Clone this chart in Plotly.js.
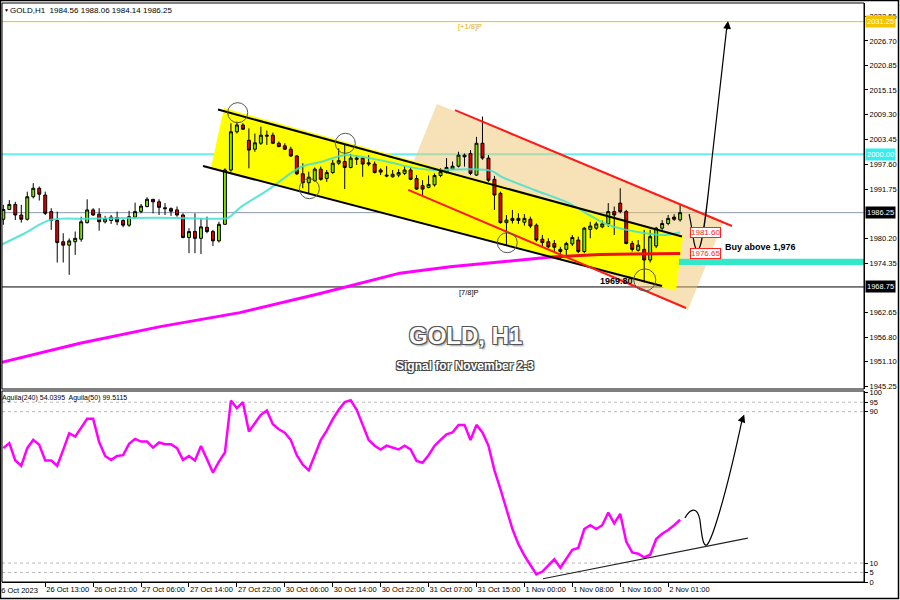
<!DOCTYPE html>
<html><head><meta charset="utf-8">
<script src="https://cdn.plot.ly/plotly-3.0.1.min.js"></script>
<style>html,body{margin:0;padding:0;background:#fff;}#chart{width:900px;height:600px;}</style>
</head><body><div id="chart"></div>
<script>
// ---------------- DATA ----------------
const headerText = "GOLD,H1  1984.56 1988.06 1984.14 1986.25";
const indicatorHeader = "Aguila(240) 54.0395  Aguila(50) 99.5115";
const firstDateLabel = "26 Oct 2023";
const timeLabels = ["26 Oct 13:00","26 Oct 21:00","27 Oct 06:00","27 Oct 14:00","27 Oct 22:00","30 Oct 06:00","30 Oct 14:00","30 Oct 22:00","31 Oct 07:00","31 Oct 15:00","1 Nov 00:00","1 Nov 08:00","1 Nov 16:00","2 Nov 01:00"];
const priceTicks = [2032.55,2026.70,2020.85,2015.15,2009.30,2003.45,1997.60,1991.75,1980.20,1974.35,1962.65,1956.80,1951.10,1945.25];
const indicatorTicks = [0,5,10,90,95,100];
const indicatorLevels = [5,10,90,95];

const opens = [1984.7,1987.0,1988.2,1985.7,1984.7,1990.0,1992.0,1990.4,1986.5,1984.4,
1979.4,1978.6,1979.4,1980.0,1983.9,1986.9,1985.9,1984.1,1984.4,1985.1,
1984.4,1983.3,1985.2,1986.5,1987.7,1989.4,1988.8,1987.4,1987.2,1986.9,
1985.7,1980.4,1981.8,1980.2,1982.8,1981.8,1979.6,1983.5,1996.3,2005.3,
2006.9,2003.3,2001.2,2002.6,2004.5,2004.5,2002.6,2002.0,2001.2,1999.6,
1995.4,1993.3,1993.8,1996.5,1994.3,1995.7,1997.9,1998.3,1996.9,1998.8,
1999.1,1998.0,1997.7,1996.3,1995.1,1994.7,1995.1,1995.5,1996.3,1994.3,
1992.6,1992.2,1992.8,1995.0,1995.7,1996.5,1997.2,1999.8,2000.2,1995.1,
2002.6,1999.1,1994.1,1990.8,1983.9,1984.4,1984.9,1984.0,1984.7,1983.3,
1980.0,1979.4,1979.0,1977.6,1977.6,1978.9,1979.8,1977.1,1982.3,1982.6,
1982.9,1983.6,1986.5,1988.5,1986.5,1979.0,1977.4,1977.6,1975.1,1978.4,
1982.6,1983.7,1985.2,1984.56];
const highs = [1988.1,1989.2,1988.8,1988.1,1991.2,1993.2,1992.4,1991.2,1987.3,1986.5,
1981.4,1980.2,1981.8,1985.3,1989.4,1987.3,1987.3,1985.5,1985.7,1986.5,
1984.7,1986.7,1988.6,1988.3,1989.9,1989.4,1989.4,1988.5,1987.5,1987.7,
1986.1,1982.6,1986.1,1984.9,1985.3,1982.2,1984.1,1996.7,2007.3,2007.7,
2007.3,2006.1,2004.9,2006.5,2005.6,2005.1,2003.0,2002.6,2001.8,1999.8,
1997.9,1995.9,1996.9,1997.1,1996.3,1998.7,2001.4,2002.2,2000.1,1999.8,
1999.4,1999.8,1998.3,1996.7,1997.2,1996.3,1996.5,1997.2,1996.9,1995.1,
1993.9,1995.0,1995.5,1996.7,1999.1,1998.3,2000.6,2000.2,2001.0,2004.1,
2008.9,1999.8,1994.9,1991.2,1985.7,1986.9,1986.1,1985.9,1985.3,1983.7,
1981.0,1980.2,1979.8,1978.2,1979.4,1981.0,1980.6,1982.9,1984.1,1984.1,
1984.4,1988.5,1987.7,1992.0,1986.9,1979.6,1979.8,1982.2,1982.2,1982.9,
1984.5,1985.7,1985.9,1988.06];
const lows = [1983.4,1986.9,1984.5,1983.9,1984.4,1989.6,1989.1,1985.7,1982.2,1974.5,
1974.5,1971.6,1976.3,1979.4,1983.7,1985.5,1982.0,1983.7,1983.6,1983.3,
1982.8,1982.9,1984.9,1986.1,1987.5,1986.1,1985.7,1985.7,1985.5,1985.3,
1980.2,1976.7,1976.7,1976.5,1981.4,1978.4,1979.2,1983.4,1995.9,2004.9,
2005.7,1996.7,2000.6,2002.2,2002.2,2002.4,2001.7,2001.0,1999.4,1995.1,
1992.0,1990.8,1993.5,1993.8,1993.5,1995.4,1997.5,1991.8,1996.7,1997.5,
1994.7,1997.2,1995.5,1995.1,1994.6,1994.5,1994.6,1995.1,1993.9,1991.6,
1990.0,1992.0,1992.4,1994.6,1995.5,1996.3,1996.9,1997.1,1995.1,1994.9,
1998.7,1993.5,1986.9,1983.7,1978.6,1983.7,1983.6,1983.2,1982.6,1979.4,
1978.2,1977.9,1977.1,1975.3,1975.9,1978.4,1976.7,1976.7,1980.2,1982.2,
1982.6,1982.9,1981.0,1986.1,1978.8,1977.1,1977.1,1969.8,1974.5,1977.9,
1982.2,1983.3,1984.3,1984.14];
const closes = [1987.0,1988.2,1985.7,1984.7,1990.0,1992.0,1990.6,1986.1,1984.4,1979.2,
1978.6,1979.6,1980.2,1984.1,1986.9,1985.7,1984.1,1984.8,1985.2,1984.1,
1983.3,1985.3,1986.5,1987.8,1989.4,1988.8,1987.5,1987.2,1986.6,1985.7,
1980.4,1981.8,1980.2,1982.9,1981.8,1979.6,1983.5,1996.3,2005.3,2006.9,
2005.9,2001.0,2002.7,2004.5,2004.3,2002.6,2001.8,2001.2,1999.6,1995.4,
1993.3,1994.6,1996.5,1994.1,1995.7,1997.9,1998.5,1996.9,1999.1,1999.1,
1997.7,1997.7,1995.7,1995.8,1994.9,1995.3,1995.7,1996.3,1994.1,1991.8,
1991.8,1992.9,1995.0,1995.9,1996.9,1997.2,1999.8,1999.4,1995.5,2002.6,
1999.1,1993.9,1990.4,1983.9,1984.5,1984.9,1984.4,1984.9,1983.1,1979.8,
1979.2,1978.2,1978.1,1977.1,1979.0,1980.4,1977.1,1982.6,1983.1,1983.6,
1983.6,1986.5,1985.7,1986.5,1979.0,1977.6,1978.6,1975.1,1980.6,1982.6,
1983.7,1984.9,1984.7,1986.25];

// fast moving average (turquoise), read at selected bars
const maFastBars   = [-0.5, 3.6, 7.8, 14, 21.7, 29.1, 35.8, 37.5, 39.6, 44.2, 49.7, 53.0, 56.9, 59.7, 64.3, 68.6, 72.0, 77.7, 81.5, 83.2, 88.7, 94.4, 97.8, 101.1, 105.5, 110.0, 113.0];
const maFastValues = [1978.6,1981.4,1984.5,1984.8,1985.0,1985.0,1984.8,1985.0,1987.5,1991.6,1997.0,1998.2,1999.8,1999.4,1998.2,1996.8,1996.3,1996.5,1996.1,1994.7,1991.6,1988.5,1985.7,1983.3,1981.8,1981.0,1981.6];
// slow moving average: magenta part, then red part
const maSlowBars   = [-0.5, 12.8, 26.2, 39.5, 52.9, 66.2, 74.6, 82.9, 89.6, 91.5];
const maSlowValues = [1950.9,1955.5,1959.4,1962.7,1967.2,1972.0,1973.5,1974.7,1975.5,1975.8];
const maRedBars    = [91.5, 99.6, 105.1, 113.0];
const maRedValues  = [1975.8,1976.4,1976.5,1976.65];

// indicator (Aguila 50) one value per bar
const aguila = [70.7,73.4,64.2,61.4,70.7,75.1,72.5,64.2,64.2,61.4,
69.8,78.6,76.8,81.3,86.2,86.2,73.9,66.6,64.5,66.6,
67.0,73.0,75.6,74.2,74.2,71.0,73.7,72.8,72.8,70.7,
64.5,66.6,64.2,71.9,64.5,57.8,63.6,68.4,95.8,91.8,
95.0,79.5,83.9,88.3,90.6,83.4,80.7,78.9,75,67,
62,59,67,75,80,86,91,95,96,91,
83,75,72,70,72,71,70,72,70,64,
63,67,72,75,78,79,83,83,75,83,
79,72,59,49,38,28,20,14,9,4,
5.5,9,12,7.5,12,17,18,28,30,28,
30,36.7,31,36,21.4,15.6,14.9,13.0,14.4,22.7,
25.5,27.5,30,32.9];

// horizontal levels
const levelTop = 2031.25, levelRound = 2000.00, levelLast = 1986.25, levelLow = 1968.75;
const buyZone = [1973.9, 1975.4];
const maFastLabel = 1981.60, maSlowLabel = 1976.65, swingLow = 1969.80;

// ---------------- CHART ----------------
const W = 900, H = 600;
const px = v => v / W, py = v => 1 - v / H;
const bars = opens.map((_, i) => i);
const tickvals = timeLabels.map((_, k) => 7 + 8 * k);
const FONT = 'Liberation Sans, Arial, sans-serif';

const traces = [
  {type:'scatter', mode:'lines', x:maSlowBars, y:maSlowValues, line:{color:'#ff00ff', width:3}, hoverinfo:'skip'},
  {type:'scatter', mode:'lines', x:maRedBars, y:maRedValues, line:{color:'#ee1111', width:3}, hoverinfo:'skip'},
  {type:'scatter', mode:'lines', x:maFastBars, y:maFastValues, line:{color:'rgba(64,224,208,0.85)', width:2, shape:'spline'}, hoverinfo:'skip'},
  {type:'candlestick', x:bars, open:opens, high:highs, low:lows, close:closes,
   increasing:{line:{color:'#000', width:1}, fillcolor:'#80e000'},
   decreasing:{line:{color:'#000', width:1}, fillcolor:'#e00000'},
   whiskerwidth:0, hoverinfo:'skip'},
  {type:'scatter', mode:'lines', x:bars, y:aguila, xaxis:'x', yaxis:'y2', line:{color:'#ff00ff', width:2.5}, hoverinfo:'skip'}
];

const shapes = [
  {type:'path', xref:'x', yref:'y', layer:'below', path:'M72.4,2011.85 L120.3,1984.29 L114.3,1963.32 L66.7,1992.06 Z', fillcolor:'rgba(238,198,110,0.5)', line:{width:0}},
  {type:'path', xref:'x', yref:'y', layer:'below', path:'M36.85,2010.9 L113.5,1980.75 L112.3,1967.8 L34.7,1997.0 Z', fillcolor:'#ffff00', line:{width:0}},
  {type:'line', xref:'paper', yref:'y', x0:px(2), x1:px(864), y0:levelTop, y1:levelTop, layer:'below', line:{color:'#f2c200', width:1}},
  {type:'line', xref:'paper', yref:'y', x0:px(2), x1:px(864), y0:levelRound, y1:levelRound, layer:'below', line:{color:'#66f0f0', width:2}},
  {type:'line', xref:'paper', yref:'y', x0:px(2), x1:px(864), y0:levelLast, y1:levelLast, layer:'below', line:{color:'#8c9aab', width:1}},
  {type:'line', xref:'paper', yref:'y', x0:px(2), x1:px(864), y0:levelLow, y1:levelLow, layer:'below', line:{color:'#000', width:1}},
  {type:'rect', xref:'x', yref:'y', x0:112.8, x1:143.7, y0:buyZone[0], y1:buyZone[1], layer:'below', fillcolor:'#33e8c8', line:{width:0}},
  {type:'line', xref:'x', yref:'y', x0:35.84, y0:2010.55, x1:113.3, y1:1980.64, line:{color:'#000', width:2}},
  {type:'line', xref:'x', yref:'y', x0:33.34, y0:1997.24, x1:109.97, y1:1968.98, line:{color:'#000', width:2}},
  {type:'line', xref:'x', yref:'y', x0:75.4, y0:2010.4, x1:121.65, y1:1983.1, line:{color:'#ff1a1a', width:2}},
  {type:'line', xref:'x', yref:'y', x0:67.6, y0:1991.6, x1:113.98, y1:1963.8, line:{color:'#ff1a1a', width:2}},
  {type:'circle', xref:'x', yref:'y', x0:39.13-1.67, x1:39.13+1.67, y0:2009.8-2.36, y1:2009.8+2.36, line:{color:'#555', width:1}},
  {type:'circle', xref:'x', yref:'y', x0:57.1-1.67, x1:57.1+1.67, y0:2002.59-2.36, y1:2002.59+2.36, line:{color:'#555', width:1}},
  {type:'circle', xref:'x', yref:'y', x0:51.1-1.67, x1:51.1+1.67, y0:1991.9-2.36, y1:1991.9+2.36, line:{color:'#555', width:1}},
  {type:'circle', xref:'x', yref:'y', x0:84.14-1.67, x1:84.14+1.67, y0:1979.18-2.36, y1:1979.18+2.36, line:{color:'#555', width:1}},
  {type:'circle', xref:'x', yref:'y', x0:107.1-1.84, x1:107.1+1.84, y0:1970.4-2.6, y1:1970.4+2.6, line:{color:'#555', width:1}},
  {type:'path', xref:'x', yref:'y', path:'M114.5,1985.9 C115.1,1982.2 115.3,1977.0 115.98,1977.5 C116.8,1977.9 117.6,1989.2 118.3,1998.7 L120.8,2030.0', line:{color:'#000', width:1.2}},
  ...indicatorLevels.map(v => ({type:'line', xref:'paper', yref:'y2', x0:px(2), x1:px(864), y0:v, y1:v, layer:'below', line:{color:'#b8b8b8', width:1, dash:'3px,3px'}})),
  {type:'line', xref:'x', yref:'y2', x0:90.1, y0:1.7, x1:124.3, y1:23.2, line:{color:'#222', width:1.2}},
  {type:'path', xref:'x', yref:'y2', path:'M113.8,33.9 C114.6,38.2 115.8,40.8 116.3,32.9 C116.6,25.0 116.8,18.1 117.5,19.7 C118.3,22.3 120.5,43.4 123.4,86.5', line:{color:'#000', width:1.2}},
  {type:'rect', xref:'paper', yref:'paper', x0:px(2), x1:px(864), y0:py(389), y1:py(3), line:{color:'#000', width:1}},
  {type:'rect', xref:'paper', yref:'paper', x0:px(2), x1:px(864), y0:py(582), y1:py(391), line:{color:'#000', width:1}},
  {type:'rect', xref:'paper', yref:'paper', x0:px(0.5), x1:px(898.5), y0:py(598.5), y1:py(0.5), line:{color:'#000', width:1.5}}
];

const priceBox = (val, bg, fg) => ({xref:'paper', yref:'y', x:px(865), y:val, xanchor:'left', yanchor:'middle', text:val.toFixed(2), showarrow:false, bgcolor:bg, font:{family:FONT, size:7.5, color:fg}, borderpad:1});

const annotations = [
  {xref:'paper', yref:'paper', x:px(2), y:py(10), xanchor:'left', yanchor:'middle', text:'▼', showarrow:false, font:{family:FONT, size:5, color:'#000'}},
  {xref:'paper', yref:'paper', x:px(8), y:py(10), xanchor:'left', yanchor:'middle', text:headerText, showarrow:false, font:{family:FONT, size:8, color:'#000'}},
  {xref:'paper', yref:'paper', x:px(0), y:py(398), xanchor:'left', yanchor:'middle', text:indicatorHeader, showarrow:false, font:{family:FONT, size:7, color:'#000'}},
  {xref:'paper', yref:'paper', x:px(40), y:py(590), xanchor:'right', yanchor:'middle', text:firstDateLabel, showarrow:false, font:{family:FONT, size:7.5, color:'#000'}},
  priceBox(levelTop, '#f5c400', '#fff'),
  priceBox(levelRound, '#33eeee', '#fff'),
  priceBox(levelLast, '#000', '#fff'),
  priceBox(levelLow, '#000', '#fff'),
  {xref:'x', yref:'y', x:114.6, y:maFastLabel, xanchor:'left', yanchor:'middle', text:maFastLabel.toFixed(2), showarrow:false, bgcolor:'#fff', bordercolor:'#ff2222', borderwidth:1, borderpad:0, font:{family:FONT, size:8, color:'#ff2222'}},
  {xref:'x', yref:'y', x:114.6, y:maSlowLabel, xanchor:'left', yanchor:'middle', text:maSlowLabel.toFixed(2), showarrow:false, bgcolor:'#fff', bordercolor:'#ff2222', borderwidth:1, borderpad:0, font:{family:FONT, size:8, color:'#ff2222'}},
  {xref:'x', yref:'y', x:120.2, y:1978.2, xanchor:'left', yanchor:'middle', text:'<b>Buy above 1,976</b>', showarrow:false, font:{family:FONT, size:9, color:'#000'}},
  {xref:'x', yref:'y', x:102.3, y:1970.2, xanchor:'center', yanchor:'middle', text:'<b>'+swingLow.toFixed(2)+'</b>', showarrow:false, font:{family:FONT, size:9, color:'#000'}},
  {xref:'x', yref:'y', x:77.7, y:1967.35, xanchor:'center', yanchor:'middle', text:'[7/8]P', showarrow:false, font:{family:FONT, size:7.5, color:'#000'}},
  {xref:'x', yref:'y', x:77.9, y:2030.0, xanchor:'center', yanchor:'middle', text:'[+1/8]P', showarrow:false, font:{family:FONT, size:7.5, color:'#e0b000'}},
  {xref:'paper', yref:'paper', x:px(465), y:py(335), xanchor:'center', yanchor:'middle', text:'<b>GOLD, H1</b>', showarrow:false, font:{family:FONT, size:24, color:'#fff', shadow:'1px 1px 0 #555, -1px -1px 0 #555, 1px -1px 0 #555, -1px 1px 0 #555, 2px 2px 2px #999'}},
  {xref:'paper', yref:'paper', x:px(465), y:py(366), xanchor:'center', yanchor:'middle', text:'<b>Signal for November 2-3</b>', showarrow:false, font:{family:FONT, size:12, color:'#fff', shadow:'1px 1px 0 #444, -1px -1px 0 #444, 1px -1px 0 #444, -1px 1px 0 #444'}},
  {xref:'x', yref:'y', axref:'x', ayref:'y', x:121.0, y:2031.4, ax:120.8, ay:2029.0, text:'', showarrow:true, arrowhead:2, arrowsize:1.3, arrowwidth:1.2, arrowcolor:'#000'},
  {xref:'x', yref:'y2', axref:'x', ayref:'y2', x:123.7, y:88.5, ax:123.4, ay:86.0, text:'', showarrow:true, arrowhead:2, arrowsize:1.3, arrowwidth:1.2, arrowcolor:'#000'}
];

const layout = {
  width: W, height: H, autosize: false,
  margin: {l:0, r:0, t:0, b:0, pad:0},
  paper_bgcolor:'#fff', plot_bgcolor:'#fff', showlegend:false,
  font:{family:FONT, size:8, color:'#000'},
  xaxis:{domain:[px(2), px(864)], range:[-0.22, 143.7], anchor:'y2', showgrid:false, zeroline:false,
    tickmode:'array', tickvals:tickvals, ticktext:timeLabels, ticks:'outside', ticklen:4, tickcolor:'#000',
    tickangle:0, ticklabelposition:'outside right', tickfont:{family:FONT, size:7.5}, showline:true, linecolor:'#000',
    rangeslider:{visible:false}, fixedrange:true},
  yaxis:{domain:[py(389), py(3)], range:[1944.71, 2035.64], side:'right', anchor:'x', showgrid:false, zeroline:false,
    tickmode:'array', tickvals:priceTicks, ticktext:priceTicks.map(v => v.toFixed(2)), ticks:'outside', ticklen:3,
    tickcolor:'#000', showline:true, linecolor:'#000', tickfont:{family:FONT, size:7.5}, fixedrange:true},
  yaxis2:{domain:[py(582), py(391)], range:[0, 100.9], side:'right', anchor:'x', showgrid:false, zeroline:false,
    tickmode:'array', tickvals:indicatorTicks, ticks:'outside', ticklen:3, tickcolor:'#000', showline:true, linecolor:'#000',
    tickfont:{family:FONT, size:7.5}, fixedrange:true},
  shapes: shapes,
  annotations: annotations
};

Plotly.newPlot('chart', traces, layout, {staticPlot:true, displayModeBar:false});
</script></body></html>
